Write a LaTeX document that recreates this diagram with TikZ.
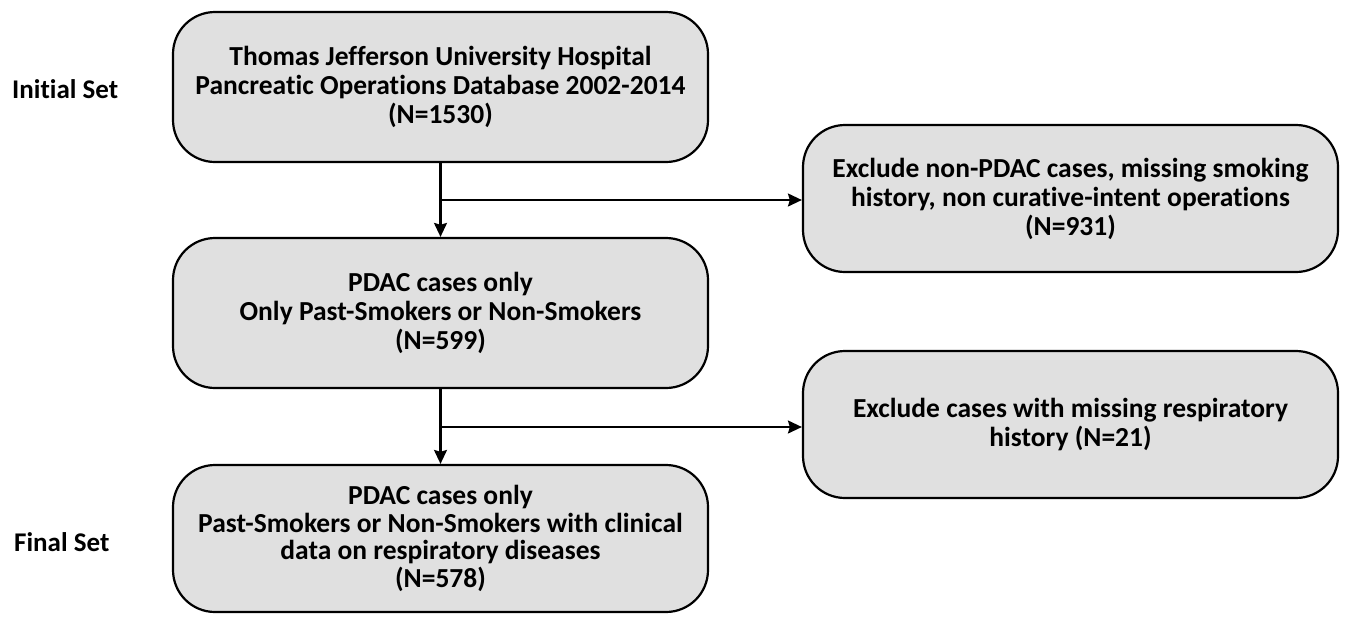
\documentclass[tikz,border=0pt]{standalone}
\usepackage{fontspec}
\setmainfont{Carlito}[Ligatures=NoCommon]
\usetikzlibrary{arrows.meta}
\begin{document}
\begin{tikzpicture}[x=1pt,y=-1pt,
  box/.style={draw=black, line width=2.2pt, fill=boxgray, rounded corners=42pt,
    minimum width=535pt, align=center, inner sep=0pt,
    font=\fontsize{27.5}{29}\selectfont\bfseries},
  lbl/.style={font=\fontsize{27}{29}\selectfont\bfseries, anchor=west, inner sep=0pt},
  conn/.style={line width=2.2pt, -{Stealth[length=14pt,width=13pt,inset=2pt]}}]
\definecolor{boxgray}{RGB}{224,224,224}
\useasboundingbox (0,0) rectangle (1349,616);
\node[box, minimum height=150pt] (b1) at (440.5,87) {Thomas Jefferson University Hospital\\Pancreatic Operations Database 2002-2014\\(N=1530)};
\node[box, minimum height=150pt] (b2) at (440.5,313) {PDAC cases only\\Only Past-Smokers or Non-Smokers\\(N=599)};
\node[box, minimum height=147pt, font=\fontsize{27.5}{27.5}\selectfont\bfseries] (b3) at (440.5,538.5) {PDAC cases only\\Past-Smokers or Non-Smokers with clinical\\data on respiratory diseases\\(N=578)};
\node[box, minimum height=147pt] (r1) at (1070.5,198.5) {Exclude non-PDAC cases, missing smoking\\history, non curative-intent operations\\(N=931)};
\node[box, minimum height=147pt] (r2) at (1070.5,424.5) {Exclude cases with missing respiratory\\history (N=21)};
\node[lbl] (l1) at (12,89) {Initial Set};
\node[lbl] (l2) at (14,542) {Final Set};
\coordinate (j1) at (b1.south |- 0,200);
\coordinate (j2) at (b2.south |- 0,427);
\draw[conn] (b1.south) -- (b2.north);
\draw[conn] (j1) -- (r1.west |- j1);
\draw[conn] (b2.south) -- (b3.north);
\draw[conn] (j2) -- (r2.west |- j2);
\end{tikzpicture}
\end{document}
